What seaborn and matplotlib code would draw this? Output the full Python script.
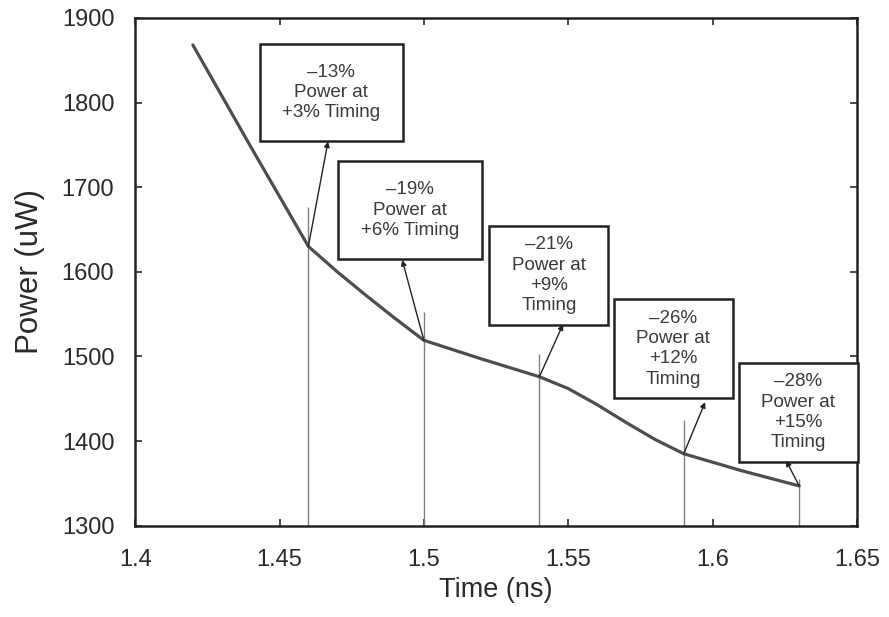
"""Power vs timing trade-off plot"""
import matplotlib
matplotlib.use("Agg")
import matplotlib.pyplot as plt
from matplotlib.path import Path
import seaborn as sns
import pandas as pd

# curve
time_ns = [1.42, 1.44, 1.46, 1.47, 1.48, 1.49, 1.50, 1.52, 1.54, 1.55, 1.56, 1.57,
           1.58, 1.59, 1.60, 1.61, 1.62, 1.63]
power_uw = [1868, 1748, 1630, 1600, 1572, 1545, 1519, 1497, 1476, 1462, 1443, 1422,
            1402, 1385, 1375, 1365, 1356, 1347]

# marked operating points and the top of their vertical guide lines
mark_time = [1.46, 1.50, 1.54, 1.59, 1.63]
mark_power = [1630, 1519, 1476, 1385, 1347]
mark_top = [1677, 1553, 1503, 1425, 1355]

labels = [
    "\u201313%\nPower at\n+3% Timing",
    "\u201319%\nPower at\n+6% Timing",
    "\u201321%\nPower at\n+9%\nTiming",
    "\u201326%\nPower at\n+12%\nTiming",
    "\u201328%\nPower at\n+15%\nTiming",
]
# box centres and arrow tips (data coords)
box_centre = [(1.4679, 1812), (1.4952, 1673), (1.5433, 1596), (1.5863, 1509), (1.6296, 1434)]
arrow_tip = [(1.4668, 1754), (1.4925, 1614), (1.5482, 1538), (1.5974, 1446), (1.6254, 1377)]


def rect_box(padx, pady):
    """square box with separate horizontal / vertical padding (in font-size units)"""
    def style(x0, y0, width, height, mutation_size):
        px, py = padx * mutation_size, pady * mutation_size
        x0, y0 = x0 - px, y0 - py
        x1, y1 = x0 + width + 2 * px, y0 + height + 2 * py
        return Path([(x0, y0), (x1, y0), (x1, y1), (x0, y1), (x0, y0)], closed=True)
    return style


sns.set_style("ticks")
plt.rcParams['font.family'] = ['Liberation Sans', 'DejaVu Sans']

fig = plt.figure(figsize=(8.89, 6.17), dpi=100)
ax = fig.add_axes([0.152, 0.148, 0.812, 0.823])

df = pd.DataFrame({'time': time_ns, 'power': power_uw})
sns.lineplot(data=df, x='time', y='power', ax=ax, color='#4d4d4d', lw=2.3, zorder=3)

# thin vertical guide lines from the axis up past the curve
ax.vlines(mark_time, 1300, mark_top, color='#808080', lw=1.0, zorder=2)

for lab, c, tip, mx, my in zip(labels, box_centre, arrow_tip, mark_time, mark_power):
    nlines = lab.count('\n') + 1
    pady = 1.07 if nlines == 3 else 0.56
    ax.text(c[0], c[1], lab, ha='center', va='center', fontsize=13.5,
            color='#3a3a3a', linespacing=1.25,
            bbox=dict(boxstyle=rect_box(1.2, pady), fc='white', ec='#222222', lw=1.8))
    ax.annotate('', xy=tip, xytext=(mx, my),
                arrowprops=dict(arrowstyle='-|>', color='#222222', lw=1.0,
                                mutation_scale=8, shrinkA=0, shrinkB=0))

ax.set_xlim(1.4, 1.65)
ax.set_ylim(1300, 1900)
ax.set_xticks([1.4, 1.45, 1.5, 1.55, 1.6, 1.65])
ax.set_xticklabels(['1.4', '1.45', '1.5', '1.55', '1.6', '1.65'])
ax.set_yticks(range(1300, 1901, 100))
ax.tick_params(direction='in', length=5, width=1.2, labelsize=17, colors='#2a2a2a',
               top=True, right=True)
ax.tick_params(axis='x', pad=17)
ax.tick_params(axis='y', pad=15)
for s in ax.spines.values():
    s.set_linewidth(1.8)
    s.set_color('#222222')

ax.set_xlabel('Time (ns)', fontsize=19.5, color='#2a2a2a', labelpad=4)
ax.set_ylabel('Power (uW)', fontsize=22.5, color='#2a2a2a', labelpad=12)

plt.savefig('out.png', dpi=100)
